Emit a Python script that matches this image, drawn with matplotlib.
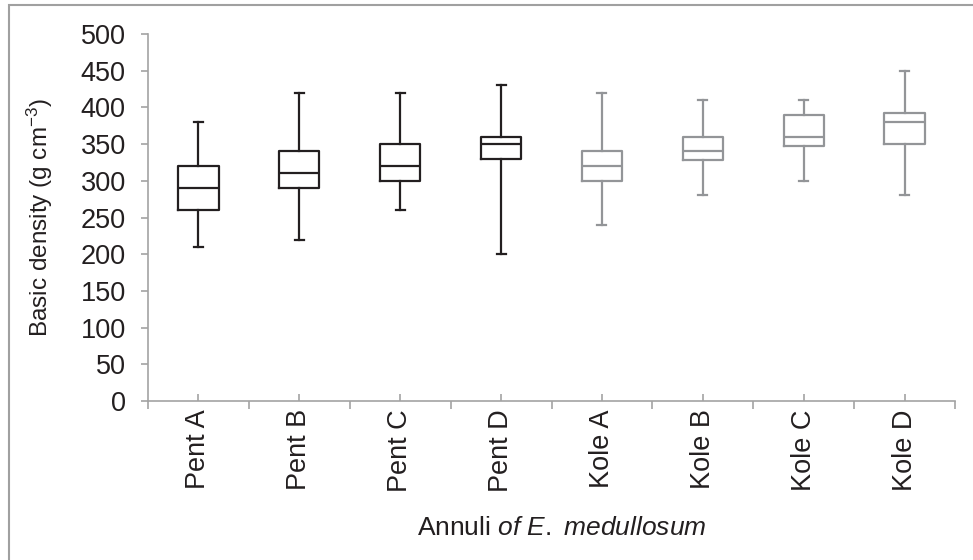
import matplotlib
matplotlib.use("Agg")
import matplotlib.pyplot as plt
from matplotlib.patches import Rectangle
from matplotlib.ticker import FixedLocator, NullFormatter

plt.rcParams['font.family'] = ['Liberation Sans', 'DejaVu Sans']
plt.rcParams['mathtext.fontset'] = 'custom'
plt.rcParams['mathtext.rm'] = 'Liberation Sans'
plt.rcParams['mathtext.it'] = 'Liberation Sans:italic'
plt.rcParams['mathtext.bf'] = 'Liberation Sans:bold'

categories = ["Pent A", "Pent B", "Pent C", "Pent D", "Kole A", "Kole B", "Kole C", "Kole D"]
whisker_low = [210, 220, 260, 200, 240, 280, 300, 280]
q1 = [260, 290, 300, 330, 300, 328, 348, 350]
median = [290, 310, 320, 350, 320, 340, 360, 380]
q3 = [320, 340, 350, 360, 340, 360, 390, 392]
whisker_high = [380, 420, 420, 430, 420, 410, 410, 450]
groups = ["Pent", "Pent", "Pent", "Pent", "Kole", "Kole", "Kole", "Kole"]
yticks = [0, 50, 100, 150, 200, 250, 300, 350, 400, 450, 500]

group_colors = {"Pent": "#231f20", "Kole": "#939598"}
axis_color = "#a3a3a3"
text_color = "#231f20"

fig = plt.figure(figsize=(9.73, 5.6), dpi=100)
ax = fig.add_axes([148/973, 1-401/560, (955-148)/973, (401-34)/560])

positions = list(range(1, len(categories) + 1))
for i, cat in enumerate(categories):
    stats = [dict(med=median[i], q1=q1[i], q3=q3[i], whislo=whisker_low[i],
                  whishi=whisker_high[i], fliers=[], label=cat)]
    c = group_colors[groups[i]]
    ax.bxp(stats, positions=[positions[i]], widths=0.4, showfliers=False,
           boxprops=dict(color=c, linewidth=1.6),
           medianprops=dict(color=c, linewidth=1.6),
           whiskerprops=dict(color=c, linewidth=1.6),
           capprops=dict(color=c, linewidth=1.6),
           capwidths=0.09, manage_ticks=False)

ax.set_xlim(0.5, len(categories) + 0.5)
ax.set_ylim(0, 500)
ax.set_yticks(yticks)
ax.set_yticklabels([str(v) for v in yticks], fontsize=19.5, color=text_color)

# major ticks at category boundaries (outward), minor at centres (inward) carrying labels
ax.xaxis.set_major_locator(FixedLocator([p + 0.5 for p in [0] + positions]))
ax.xaxis.set_major_formatter(NullFormatter())
ax.set_xticks(positions, minor=True)
ax.set_xticklabels(categories, minor=True, rotation=90, fontsize=19.5, color=text_color)
ax.tick_params(axis='x', which='major', direction='out', length=6, width=1.2, color=axis_color)
ax.tick_params(axis='x', which='minor', direction='in', length=5, width=1.2, color=axis_color, pad=6)
ax.tick_params(axis='y', direction='out', length=5, width=1.2, color=axis_color, pad=11)

for s in ['top', 'right']:
    ax.spines[s].set_visible(False)
for s in ['left', 'bottom']:
    ax.spines[s].set_color(axis_color)
    ax.spines[s].set_linewidth(1.2)

ax.set_ylabel("Basic density (g cm$^{-3}$)", fontsize=17.5, color=text_color)
ax.yaxis.set_label_coords((55 - 148) / 807, 0.5)
ax.set_xlabel("Annuli $\\it{of}$ $\\it{E.}$ $\\it{medullosum}$", fontsize=19, color=text_color)
ax.xaxis.set_label_coords((561.5 - 148) / 807, (401 - 516) / 367)

# outer frame (left and top visible)
fig.patches.append(Rectangle((9/973, -0.1), 1.2, 1 - 5/560 + 0.1, transform=fig.transFigure,
                             fill=False, edgecolor="#a0a0a0", linewidth=1.5))

fig.savefig("out.png", dpi=100)
